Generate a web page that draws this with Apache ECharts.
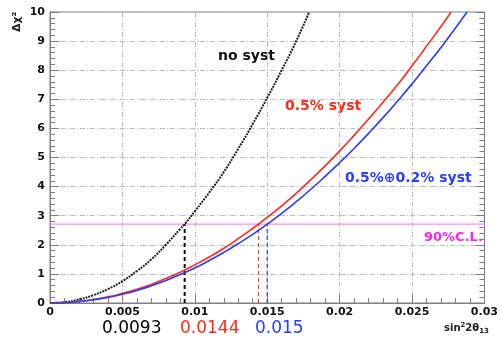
<!DOCTYPE html>
<html><head><meta charset="utf-8">
<script src="https://cdn.jsdelivr.net/npm/echarts@6/dist/echarts.min.js"></script>
<style>html,body{margin:0;padding:0;background:#fff}#c{width:501px;height:340px}</style>
</head><body><div id="c"></div>
<script>
// data
const noSystX = [0,0.001,0.002,0.003,0.004,0.005,0.006,0.007,0.008,0.009,0.0093,0.010,0.011,0.012,0.013,0.014,0.015,0.016,0.017,0.0179];
const noSystY = [0,0.03,0.12,0.27,0.48,0.75,1.1,1.5,2.0,2.55,2.71,3.15,3.8,4.5,5.3,6.15,7.05,8.0,9.0,10];
const sys05X = [0,0.001,0.002,0.003,0.004,0.005,0.006,0.007,0.008,0.009,0.010,0.011,0.012,0.013,0.014,0.0144,0.015,0.016,0.017,0.018,0.019,0.020,0.021,0.022,0.023,0.024,0.025,0.026,0.027,0.0277];
const sys05Y = [0,0.01,0.05,0.12,0.21,0.33,0.47,0.64,0.84,1.06,1.31,1.58,1.88,2.21,2.56,2.71,2.94,3.34,3.77,4.23,4.71,5.22,5.76,6.32,6.9,7.5,8.15,8.82,9.5,10];
const sys0502X = [0,0.001,0.002,0.003,0.004,0.005,0.006,0.007,0.008,0.009,0.010,0.011,0.012,0.013,0.014,0.015,0.016,0.017,0.018,0.019,0.020,0.021,0.022,0.023,0.024,0.025,0.026,0.027,0.028,0.0288];
const sys0502Y = [0,0.01,0.05,0.11,0.19,0.30,0.43,0.59,0.77,0.98,1.2,1.46,1.74,2.04,2.36,2.71,3.08,3.48,3.9,4.35,4.82,5.31,5.83,6.37,6.94,7.53,8.15,8.78,9.45,10];
const clLevel = 2.71;
const limits = [0.0093, 0.0144, 0.015];
const limitLabels = ['0.0093', '0.0144', '0.015'];
const curveNames = ['no syst', '0.5% syst', '0.5%\u22950.2% syst'];
const xTicks = [0, 0.005, 0.01, 0.015, 0.02, 0.025, 0.03];

const zip = (a, b) => a.map((v, i) => [v, b[i]]);
const colors = ['#000000', '#ff2a1a', '#2a3cff'];
const chart = echarts.init(document.getElementById('c'));
const FF = '"DejaVu Sans", Arial';
const lbl = {fontFamily: FF, fontWeight: 'bold', fontSize: 11, color: '#111'};
const split = {show: true, lineStyle: {color: '#bdbdbd', type: [5, 2, 1, 2], width: 1}};
const vline = (x, c, w, dash) => ({type: 'line', data: [[x, 0], [x, clLevel]], symbol: 'none', silent: true,
  lineStyle: {color: c, width: w, type: dash}, z: 3});
chart.setOption({
  animation: false,
  grid: {left: 50, right: 12, top: 12, bottom: 37, show: true, borderColor: '#808080', borderWidth: 1},
  xAxis: {type: 'value', min: 0, max: 0.03, interval: 0.005,
    axisLine: {lineStyle: {color: '#808080'}},
    axisTick: {inside: true, length: 9, lineStyle: {color: '#808080'}},
    minorTick: {show: true, splitNumber: 5, length: 5, lineStyle: {color: '#808080'}},
    axisLabel: Object.assign({margin: 4, formatter: v => xTicks.indexOf(v) >= 0 ? String(v) : ''}, lbl),
    splitLine: split},
  yAxis: [{type: 'value', min: 0, max: 10, interval: 1,
    axisLine: {show: true, lineStyle: {color: '#808080'}},
    axisTick: {inside: true, length: 9, lineStyle: {color: '#808080'}},
    minorTick: {show: true, splitNumber: 5, length: 5, lineStyle: {color: '#808080'}},
    axisLabel: Object.assign({margin: 5}, lbl),
    splitLine: split},
   {type: 'value', min: 0, max: 10, interval: 1, position: 'right',
    axisLine: {show: true, lineStyle: {color: '#808080'}},
    axisTick: {inside: true, length: 9, lineStyle: {color: '#808080'}},
    minorTick: {show: true, splitNumber: 5, length: 5, lineStyle: {color: '#808080'}},
    axisLabel: {show: false}, splitLine: {show: false}}],
  series: [
    {name: curveNames[0], type: 'line', data: zip(noSystX, noSystY), smooth: true, symbol: 'none',
      lineStyle: {color: '#222', width: 2, type: [2, 1]}, z: 4},
    {name: curveNames[1], type: 'line', data: zip(sys05X, sys05Y), smooth: true, symbol: 'none',
      lineStyle: {color: colors[1], width: 1.6}, z: 4},
    {name: curveNames[2], type: 'line', data: zip(sys0502X, sys0502Y), smooth: true, symbol: 'none',
      lineStyle: {color: colors[2], width: 1.6}, z: 4},
    {type: 'line', data: [[0, clLevel], [0.03, clLevel]], symbol: 'none', silent: true,
      lineStyle: {color: '#ff88ff', width: 1.2}, z: 2},
    vline(limits[0], '#111', 2, [4, 3]),
    vline(limits[1], colors[1], 1, [4, 3]),
    vline(limits[2], colors[2], 1.2, [4, 3])
  ],
  graphic: [
    {type: 'text', left: 218, top: 49, style: {text: curveNames[0], font: 'bold 14px ' + FF, fill: '#111'}},
    {type: 'text', left: 285, top: 99, style: {text: curveNames[1], font: 'bold 14px ' + FF, fill: colors[1]}},
    {type: 'text', left: 345, top: 171, style: {text: curveNames[2], font: 'bold 14px ' + FF, fill: colors[2]}},
    {type: 'text', left: 424, top: 231, style: {text: '90%C.L.', font: 'bold 13px ' + FF, fill: '#ff22ee'}},
    {type: 'text', left: 102, top: 320, style: {text: limitLabels[0], font: '17px ' + FF, fill: '#000'}},
    {type: 'text', left: 180, top: 320, style: {text: limitLabels[1], font: '17px ' + FF, fill: colors[1]}},
    {type: 'text', left: 255, top: 320, style: {text: limitLabels[2], font: '17px ' + FF, fill: colors[2]}},
    {type: 'text', left: 444, top: 322, style: {rich: {a: {font: 'bold 10px ' + FF, fill: '#222'}, s: {font: 'bold 7px ' + FF, fill: '#222', verticalAlign: 'top'}, b: {font: 'bold 7px ' + FF, fill: '#222', padding: [6,0,0,0]}}, text: '{a|sin}{s|2}{a|2\u03b8}{b|13}'}},
    {type: 'text', x: 12, y: 32, rotation: Math.PI / 2, style: {text: '\u0394\u03c7\u00b2', font: 'bold 11px ' + FF, fill: '#222'}}
  ]
});
</script></body></html>
